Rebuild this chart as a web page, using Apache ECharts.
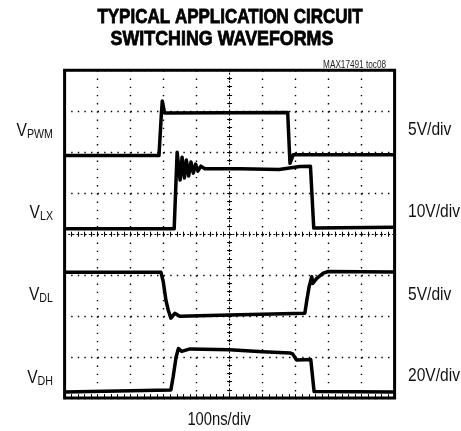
<!DOCTYPE html>
<html><head><meta charset="utf-8">
<script src="https://cdn.jsdelivr.net/npm/echarts@6/dist/echarts.min.js"></script>
<style>html,body{margin:0;padding:0;background:#fff}#c{width:461px;height:431px}</style>
</head><body><div id="c"></div>
<script>
// time axis in ns (10 div x 100 ns), vertical position in screen divisions (0 = bottom, 8 = top)
const titleLines = ['TYPICAL APPLICATION CIRCUIT', 'SWITCHING WAVEFORMS'];
const figureId = 'MAX17491 toc08';
const timeLabel = '100ns/div';
const traceNames = ['PWM', 'LX', 'DL', 'DH'];
const traceScales = ['5V/div', '10V/div', '5V/div', '20V/div'];

const pwmT = [0, 286, 293, 296, 303, 676, 683, 693, 1000];
const pwmV = [5.92, 5.92, 6.9, 7.25, 6.96, 6.97, 5.73, 5.94, 5.94];

const lxT = [0, 332, 341, 350, 356, 363, 369, 376, 383, 390, 397, 404, 413, 425, 531, 650, 713, 745, 755, 1000];
const lxV = [4.13, 4.13, 6.0, 5.32, 5.88, 5.37, 5.81, 5.42, 5.76, 5.49, 5.71, 5.54, 5.66, 5.6, 5.6, 5.58, 5.65, 5.66, 4.15, 4.17];

const dlT = [0, 292, 299, 307, 314, 322, 334, 349, 500, 728, 734, 741, 749, 752, 764, 784, 799, 1000];
const dlV = [3.07, 3.07, 2.84, 2.39, 2.15, 1.95, 2.07, 2.0, 2.03, 2.07, 2.39, 2.72, 2.96, 2.8, 2.92, 3.05, 3.09, 3.08];

const dhT = [0, 322, 329, 338, 345, 355, 380, 500, 600, 683, 691, 703, 746, 756, 1000];
const dhV = [0.15, 0.2, 0.52, 1.01, 1.21, 1.14, 1.2, 1.18, 1.13, 1.1, 1.08, 0.93, 0.94, 0.16, 0.15];

const pair = (ts, vs) => ts.map((t, i) => [t, vs[i]]);
const traces = [pair(pwmT, pwmV), pair(lxT, lxV), pair(dlT, dlV), pair(dhT, dhV)];

const FONT = '"Liberation Sans", Arial, sans-serif';
const NARROW = 0.82;
const labelY = [131, 213, 295, 378];
const scaleY = [130, 212, 295, 376];

const chart = echarts.init(document.getElementById('c'), null, {renderer: 'canvas'});

const dotted = (dash) => ({show: true, lineStyle: {color: '#000', width: 1.4, type: dash}});
const hidden = {show: false};

const option = {
  animation: false,
  backgroundColor: '#fff',
  grid: {left: 64.6, top: 70.3, width: 330, height: 327.8, show: true, borderColor: '#000', borderWidth: 3, backgroundColor: 'transparent', outerBoundsMode: 'none', containLabel: false},
  xAxis: [
    {type: 'value', min: 0, max: 1000, interval: 100, axisLine: {show: false, onZero: false}, axisTick: hidden, axisLabel: hidden, splitLine: dotted([1.4, 6.8])},
    {type: 'value', min: -500, max: 500, interval: 20, position: 'bottom', axisLine: {show: true, onZero: true, onZeroAxisIndex: 1, lineStyle: {color: '#000', width: 1, type: [1.2, 2.9]}}, axisTick: {show: true, inside: true, length: 2.5, lineStyle: {color: '#000', width: 1}}, axisLabel: hidden, splitLine: hidden},
    {type: 'value', min: -500, max: 500, interval: 20, position: 'bottom', axisLine: {show: false, onZero: true, onZeroAxisIndex: 1}, axisTick: {show: true, inside: false, length: 2.5, lineStyle: {color: '#000', width: 1}}, axisLabel: hidden, splitLine: hidden},
    {type: 'value', min: 0, max: 1000, interval: 20, position: 'bottom', axisLine: {show: false, onZero: false}, axisTick: {show: true, inside: true, length: 4, lineStyle: {color: '#000', width: 1}}, axisLabel: hidden, splitLine: hidden}
  ],
  yAxis: [
    {type: 'value', min: 0, max: 8, interval: 1, axisLine: {show: false, onZero: false}, axisTick: hidden, axisLabel: hidden, splitLine: dotted([1.4, 5.2])},
    {type: 'value', min: -4, max: 4, interval: 0.2, position: 'left', axisLine: {show: true, onZero: true, onZeroAxisIndex: 1, lineStyle: {color: '#000', width: 1, type: [1.2, 2.9]}}, axisTick: {show: true, inside: true, length: 2.5, lineStyle: {color: '#000', width: 1}}, axisLabel: hidden, splitLine: hidden},
    {type: 'value', min: -4, max: 4, interval: 0.2, position: 'left', axisLine: {show: false, onZero: true, onZeroAxisIndex: 1}, axisTick: {show: true, inside: false, length: 2.5, lineStyle: {color: '#000', width: 1}}, axisLabel: hidden, splitLine: hidden}
  ],
  series: traces.map((d, i) => ({
    name: 'V' + traceNames[i], type: 'line', data: d, xAxisIndex: 0, yAxisIndex: 0,
    showSymbol: false, symbol: 'none', z: 10,
    lineStyle: {color: '#000', width: 3.5, join: 'round'}
  })),
  graphic: [
    {type: 'text', x: 230, y: 17.5, scaleX: 0.81, style: {text: titleLines[0], font: 'bold 21px ' + FONT, fill: '#000', stroke: '#000', lineWidth: 0.8, align: 'center', verticalAlign: 'middle'}},
    {type: 'text', x: 222, y: 39, scaleX: 0.85, style: {text: titleLines[1], font: 'bold 21px ' + FONT, fill: '#000', stroke: '#000', lineWidth: 0.8, align: 'center', verticalAlign: 'middle'}},
    {type: 'text', x: 386, y: 65, scaleX: NARROW, style: {text: figureId, font: '10px ' + FONT, fill: '#222', align: 'right', verticalAlign: 'middle'}},
    {type: 'text', x: 219, y: 420, scaleX: NARROW, style: {text: timeLabel, font: '18px ' + FONT, fill: '#111', align: 'center', verticalAlign: 'middle'}}
  ].concat(traceNames.map((n, i) => ({
    type: 'text', x: 53, y: labelY[i], scaleX: NARROW,
    style: {text: '{v|V}{s|' + n + '}', align: 'right', verticalAlign: 'middle', fill: '#111',
      rich: {v: {font: '19px ' + FONT, fill: '#111', verticalAlign: 'bottom'}, s: {font: '13px ' + FONT, fill: '#111', verticalAlign: 'bottom'}}}
  }))).concat(traceScales.map((s, i) => ({
    type: 'text', x: 408, y: scaleY[i], scaleX: NARROW,
    style: {text: s, font: '19px ' + FONT, fill: '#111', align: 'left', verticalAlign: 'middle'}
  })))
};
chart.setOption(option);
</script></body></html>
